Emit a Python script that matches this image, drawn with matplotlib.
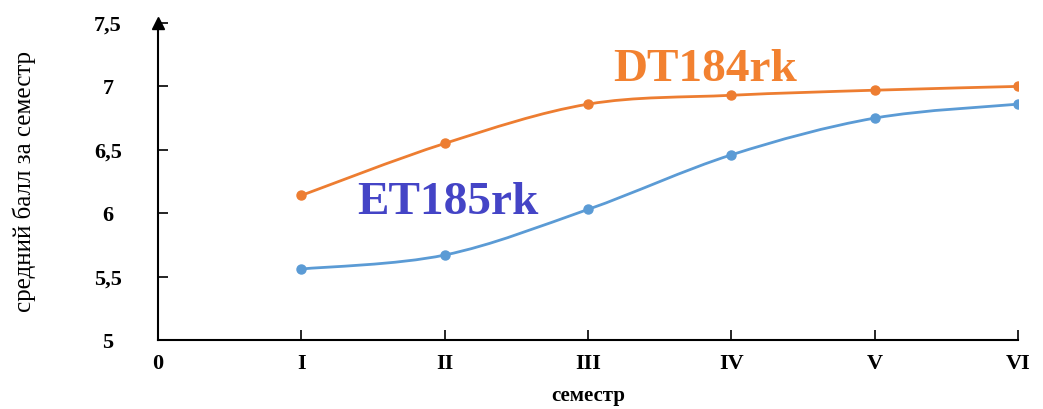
import matplotlib.pyplot as plt
from matplotlib.path import Path
from matplotlib.patches import PathPatch

# Средний балл групп по семестрам
semesters = [1, 2, 3, 4, 5, 6]
x_labels = ['0', 'I', 'II', 'III', 'IV', 'V', 'VI']
y_ticks = [5, 5.5, 6, 6.5, 7, 7.5]
y_labels = ['5', '5,5', '6', '6,5', '7', '7,5']
dt184 = [6.14, 6.55, 6.86, 6.93, 6.97, 7.00]
et185 = [5.56, 5.67, 6.03, 6.46, 6.75, 6.86]

ORANGE = '#ED7D31'
BLUE = '#5B9BD5'
SERIF = ['Liberation Serif', 'DejaVu Serif']


def smooth_path(xs, ys):
    """Сглаженная линия как в Excel: кривые Безье через все точки"""
    pts = list(zip(xs, ys))
    verts = [pts[0]]
    codes = [Path.MOVETO]
    n = len(pts)
    for i in range(n - 1):
        p0 = pts[max(i - 1, 0)]
        p1 = pts[i]
        p2 = pts[i + 1]
        p3 = pts[min(i + 2, n - 1)]
        c1 = (p1[0] + (p2[0] - p0[0]) / 6, p1[1] + (p2[1] - p0[1]) / 6)
        c2 = (p2[0] - (p3[0] - p1[0]) / 6, p2[1] - (p3[1] - p1[1]) / 6)
        verts += [c1, c2, p2]
        codes += [Path.CURVE4] * 3
    return Path(verts, codes)


fig = plt.figure(figsize=(10.43, 4.09), dpi=100)
ax = fig.add_axes([158 / 1043, 69 / 409, 860 / 1043, 317 / 409])
ax.set_xlim(0, 6)
ax.set_ylim(5, 7.5)

for ys, color in [(dt184, ORANGE), (et185, BLUE)]:
    ax.add_patch(PathPatch(smooth_path(semesters, ys), facecolor='none',
                           edgecolor=color, linewidth=2))
    ax.plot(semesters, ys, 'o', color=color, markersize=6.5)

# Оси со стрелками
for side in ['top', 'right']:
    ax.spines[side].set_visible(False)
for side in ['left', 'bottom']:
    ax.spines[side].set_linewidth(1.5)
ax.plot(0, 1, '^k', transform=ax.get_xaxis_transform(), clip_on=False, markersize=8)
ax.plot(1.005, 0, '>k', transform=ax.get_yaxis_transform(), clip_on=False, markersize=8)

ax.set_xticks(range(7))
ax.set_xticklabels(x_labels)
ax.set_yticks(y_ticks)
ax.set_yticklabels(y_labels)
ax.tick_params(axis='both', direction='in', length=7, width=1.2)
ax.tick_params(axis='x', pad=10)
ax.tick_params(axis='y', pad=36)
for lbl in ax.get_xticklabels() + ax.get_yticklabels():
    lbl.set_fontfamily(SERIF)
    lbl.set_fontweight('bold')
    lbl.set_fontsize(16)
for lbl in ax.get_yticklabels():
    lbl.set_horizontalalignment('center')

ax.set_xlabel('семестр', family=SERIF, fontweight='bold', fontsize=15)
ax.xaxis.set_label_coords(0.5, -0.145)
ax.set_ylabel('средний балл за семестр', family=SERIF, fontsize=18, labelpad=42)

# Подписи групп
ax.text(3.82, 7.13, 'DT184rk', color='#F28130', family=SERIF, fontweight='bold',
        fontsize=34, ha='center', va='center')
ax.text(2.02, 6.08, 'ET185rk', color='#4444C6', family=SERIF, fontweight='bold',
        fontsize=34, ha='center', va='center')

fig.savefig('out.png', dpi=100, facecolor='white')
